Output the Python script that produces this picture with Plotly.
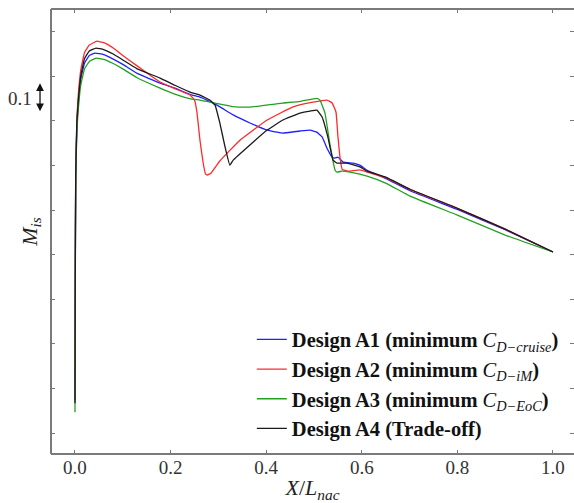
import plotly.graph_objects as go

# Isentropic Mach number along the nacelle cowl, four designs
x_a1 = [0.0, 0.0005, 0.0015, 0.004, 0.007, 0.012, 0.02, 0.03, 0.042, 0.06, 0.08, 0.1, 0.13,
        0.178, 0.209, 0.245, 0.2615, 0.297, 0.331, 0.366, 0.402, 0.423, 0.435, 0.471, 0.492,
        0.506, 0.517, 0.527, 0.538, 0.544, 0.550, 0.561, 0.582, 0.596, 0.611, 0.651, 0.701,
        0.8, 0.9, 1.0]
m_a1 = [0.11, 0.47, 0.86, 1.04, 1.11, 1.19, 1.245, 1.27, 1.278, 1.273, 1.258, 1.24, 1.21,
        1.177, 1.16, 1.137, 1.13, 1.103, 1.07, 1.043, 1.019, 1.012, 1.009, 1.016, 1.019,
        1.012, 0.996, 0.959, 0.928, 0.925, 0.928, 0.9115, 0.908, 0.901, 0.884, 0.856, 0.815,
        0.752, 0.684, 0.609]

x_a2 = [0.0, 0.0005, 0.0015, 0.004, 0.007, 0.012, 0.02, 0.03, 0.046, 0.06, 0.08, 0.1, 0.13,
        0.16, 0.178, 0.21, 0.2406, 0.245, 0.25, 0.255, 0.2615, 0.268, 0.273, 0.277, 0.285,
        0.303, 0.345, 0.402, 0.456, 0.498, 0.527, 0.538, 0.546, 0.550, 0.555, 0.559, 0.571,
        0.596, 0.617, 0.651, 0.701, 0.8, 0.9, 1.0]
m_a2 = [0.12, 0.50, 0.88, 1.06, 1.14, 1.22, 1.28, 1.305, 1.318, 1.313, 1.295, 1.27, 1.235,
        1.20, 1.181, 1.158, 1.137, 1.13, 1.12, 1.08, 0.985, 0.91, 0.872, 0.868, 0.875,
        0.915, 0.985, 1.053, 1.097, 1.113, 1.12, 1.11, 1.08, 1.0, 0.92, 0.887, 0.881,
        0.885, 0.875, 0.858, 0.819, 0.756, 0.686, 0.609]

x_a3 = [0.0, 0.0005, 0.0015, 0.004, 0.007, 0.012, 0.02, 0.03, 0.044, 0.06, 0.08, 0.1, 0.13,
        0.178, 0.209, 0.245, 0.2615, 0.331, 0.366, 0.435, 0.471, 0.506, 0.5125, 0.523, 0.533,
        0.544, 0.548, 0.559, 0.575, 0.611, 0.651, 0.701, 0.8, 0.9, 1.0]
m_a3 = [0.07, 0.44, 0.84, 1.02, 1.09, 1.17, 1.225, 1.25, 1.261, 1.257, 1.243, 1.225, 1.195,
        1.16, 1.14, 1.123, 1.12, 1.098, 1.0965, 1.110, 1.116, 1.126, 1.12, 1.076, 0.975,
        0.885, 0.878, 0.881, 0.878, 0.864, 0.84, 0.797, 0.733, 0.666, 0.609]

x_a4 = [0.0, 0.0005, 0.0015, 0.004, 0.007, 0.012, 0.02, 0.03, 0.044, 0.06, 0.08, 0.1, 0.13,
        0.178, 0.209, 0.245, 0.2615, 0.282, 0.293, 0.303, 0.314, 0.324, 0.331, 0.366, 0.402,
        0.435, 0.471, 0.492, 0.506, 0.517, 0.529, 0.540, 0.548, 0.569, 0.596, 0.611, 0.651,
        0.701, 0.8, 0.9, 1.0]
m_a4 = [0.10, 0.48, 0.87, 1.05, 1.12, 1.20, 1.26, 1.285, 1.295, 1.29, 1.275, 1.255, 1.225,
        1.194, 1.17, 1.144, 1.137, 1.12, 1.103, 1.043, 0.962, 0.901, 0.918, 0.969, 1.019,
        1.053, 1.076, 1.083, 1.086, 1.063, 0.996, 0.918, 0.908, 0.908, 0.895, 0.881, 0.86,
        0.82, 0.756, 0.686, 0.609]

names = [
    "<b>Design A1 (minimum </b><i>C</i><sub><i>D\u2212cruise</i></sub><b>)</b>",
    "<b>Design A2 (minimum </b><i>C</i><sub><i>D\u2212iM</i></sub><b>)</b>",
    "<b>Design A3 (minimum </b><i>C</i><sub><i>D\u2212EoC</i></sub><b>)</b>",
    "<b>Design A4 (Trade-off)</b>",
]
colors = ["#2020ff", "#ff2a2a", "#22a022", "#1a1a1a"]

x_ticks = [0.0, 0.2, 0.4, 0.6, 0.8, 1.0]
y_ticks = [0.0, 0.15, 0.30, 0.45, 0.60, 0.75, 0.90, 1.05, 1.20, 1.35]
scale_bar = 0.1
scale_mid = 1.127

SERIF = "Liberation Serif"
SPINE = "#7a7a7a"

fig = go.Figure()
for xs, ms, nm, c in zip([x_a1, x_a2, x_a3, x_a4], [m_a1, m_a2, m_a3, m_a4], names, colors):
    fig.add_trace(go.Scatter(x=xs, y=ms, mode="lines", name=nm,
                             line=dict(color=c, width=1.3, shape="spline", smoothing=0.3)))

fig.update_layout(
    width=574, height=503,
    margin=dict(l=51, r=0, t=9, b=49),
    paper_bgcolor="white", plot_bgcolor="white",
    font=dict(family=SERIF, size=19, color="#222222"),
    showlegend=True,
    legend=dict(x=0.384, y=0.302, xanchor="left", yanchor="top",
                bgcolor="rgba(0,0,0,0)", font=dict(family=SERIF, size=20.5, color="#111111"),
                itemwidth=30, tracegroupgap=0),
    xaxis=dict(range=[-0.0502, 1.044], tickvals=x_ticks, ticktext=[f"{v:.1f}" for v in x_ticks],
               ticks="inside", ticklen=4, tickcolor=SPINE, tickwidth=1, mirror="ticks",
               showline=False, showgrid=False, zeroline=False,
               tickfont=dict(family=SERIF, size=19, color="#333333"),
               title=dict(text="<i>X</i>/<i>L</i><sub><i>nac</i></sub>",
                          font=dict(family=SERIF, size=22, color="#222222"), standoff=5)),
    yaxis=dict(range=[-0.0706, 1.4264], tickvals=y_ticks, showticklabels=False,
               ticks="inside", ticklen=4, tickcolor=SPINE, tickwidth=1, mirror="ticks",
               showline=False, showgrid=False, zeroline=False,
               title=dict(text="<i>M</i><sub><i>is</i></sub>",
                          font=dict(family=SERIF, size=22, color="#222222"), standoff=6)),
)

# frame: left, bottom and top spines
for x0, y0, x1, y1 in [(0, 0, 0, 1), (0, 0, 1, 0), (0, 1, 1, 1)]:
    fig.add_shape(type="line", xref="paper", yref="paper", x0=x0, y0=y0, x1=x1, y1=y1,
                  line=dict(color=SPINE, width=2))

# 0.1 scale bar beside the y axis
fig.add_annotation(xref="paper", yref="y", x=-0.021, y=scale_mid + scale_bar / 2,
                   axref="pixel", ayref="y", ax=0, ay=scale_mid - scale_bar / 2,
                   text="", showarrow=True, arrowside="end+start", arrowhead=2,
                   arrowsize=1.2, arrowwidth=1.3, arrowcolor="#111111",
                   standoff=0, startstandoff=0)
fig.add_annotation(xref="paper", yref="y", x=-0.06, y=scale_mid, text=f"{scale_bar}",
                   showarrow=False, xanchor="center", yanchor="middle",
                   font=dict(family=SERIF, size=19, color="#333333"))

fig.write_html("out.html")
